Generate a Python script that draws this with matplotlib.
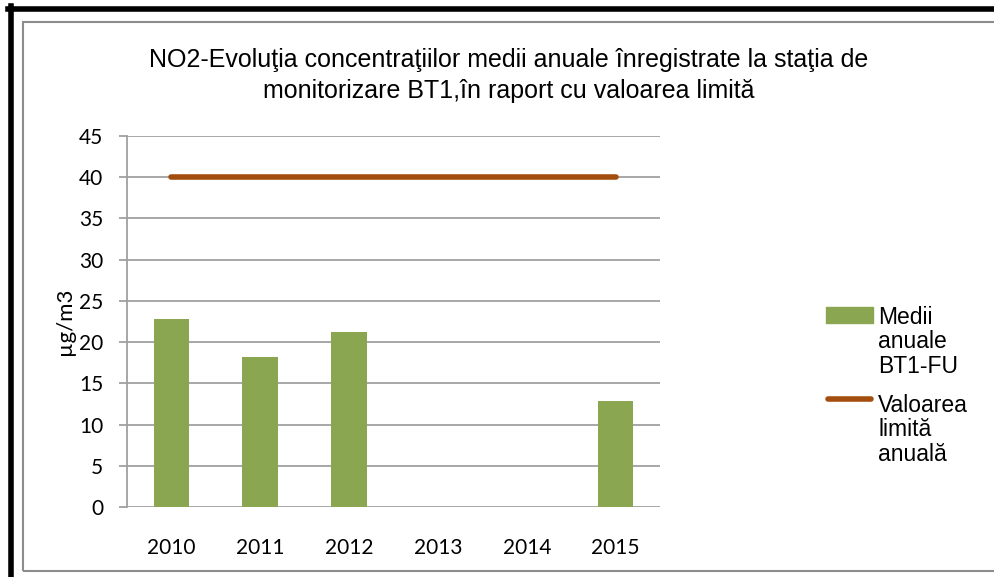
import numpy as np
import matplotlib
matplotlib.use("Agg")
import matplotlib.pyplot as plt
from matplotlib.patches import Rectangle
from matplotlib.lines import Line2D

# data
years = ["2010", "2011", "2012", "2013", "2014", "2015"]
medii_bt1 = [22.8, 18.2, 21.2, np.nan, np.nan, 12.9]
valoare_limita = [40, 40, 40, 40, 40, 40]
y_ticks = [0, 5, 10, 15, 20, 25, 30, 35, 40, 45]

title_text = ("NO2-Evoluţia concentraţiilor medii anuale înregistrate la staţia de\n"
              "monitorizare BT1,în raport cu valoarea limită")
legend_bars = "Medii\nanuale\nBT1-FU"
legend_line = "Valoarea\nlimită\nanuală"

green = "#8AA650"
brown = "#A34E0E"
W, H = 994, 577

fig = plt.figure(figsize=(W / 100, H / 100), dpi=100)
fig.patch.set_facecolor("white")


def fx(px):
    return px / W


def fy(py):
    return 1 - py / H


ax = fig.add_axes([fx(127), fy(507), fx(660) - fx(127), fy(136) - fy(507)])

x = np.arange(len(years))
ax.bar(x, medii_bt1, width=0.4, color=green, zorder=3)
ax.plot(x, valoare_limita, color=brown, lw=4, solid_capstyle="round", zorder=4)

ax.set_xlim(-0.5, len(years) - 0.5)
ax.set_ylim(0, 45)
ax.set_yticks(y_ticks)
ax.set_xticks(x)
ax.set_xticklabels(years)
ax.grid(axis="y", color="#A0A0A0", lw=1.3, zorder=0)
for s in ["top", "right", "bottom"]:
    ax.spines[s].set_visible(False)
ax.spines["left"].set_color("#A0A0A0")
ax.spines["left"].set_linewidth(1.3)
ax.tick_params(axis="y", length=6, color="#A0A0A0", width=1.3, pad=11,
               labelsize=15)
ax.tick_params(axis="x", length=0, pad=22, labelsize=15)
for lab in ax.get_xticklabels() + ax.get_yticklabels():
    lab.set_fontfamily("Lato")

ax.set_ylabel("µg/m3", fontsize=16, family="Lato")
ax.yaxis.set_label_coords(-0.097, 0.5)

# title
fig.text(fx(509), fy(75.5), title_text, ha="center", va="center",
         fontsize=18, family="Liberation Sans", linespacing=1.35)

# legend drawn by hand to keep Excel look
fig.add_artist(Rectangle((fx(826), fy(323)), fx(873) - fx(826), fy(307) - fy(323),
                         transform=fig.transFigure, color=green))
fig.add_artist(Line2D([fx(828), fx(871)], [fy(399), fy(399)], color=brown, lw=4,
                      solid_capstyle="round", transform=fig.transFigure))
fig.text(fx(878), fy(306), legend_bars, ha="left", va="top", fontsize=16.5,
         family="Liberation Sans", linespacing=1.08)
fig.text(fx(878), fy(394), legend_line, ha="left", va="top", fontsize=16.5,
         family="Liberation Sans", linespacing=1.08)

# chart area frame and outer black border
fig.add_artist(Rectangle((fx(22.5), fy(571)), 1.2, fy(21.5) - fy(571),
                         transform=fig.transFigure, fill=False,
                         edgecolor="#8C8C8C", lw=1.5))
fig.add_artist(Line2D([fx(10.5), fx(10.5)], [0, fy(6)], color="black", lw=4,
                      transform=fig.transFigure))
fig.add_artist(Line2D([fx(8), 1], [fy(8.5), fy(8.5)], color="black", lw=4,
                      transform=fig.transFigure))

fig.savefig("out.png", dpi=100)
